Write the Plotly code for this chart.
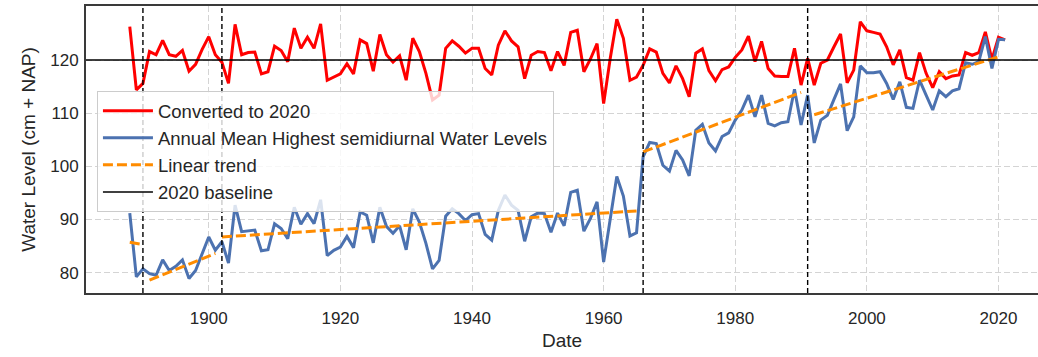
import plotly.graph_objects as go

# Annual series, 1888-2021
YEARS = list(range(1888, 2022))

# Annual Mean Highest semidiurnal Water Levels (cm + NAP)
MEAN_HIGH = [
    91.2, 79.2, 80.7, 79.8, 79.5, 82.4, 80.4, 81.2, 82.4, 78.9,   # 1888-1897
    80.4, 83.6, 86.7, 84.2, 85.8, 81.8, 92.7, 87.7, 87.9, 88.0,   # 1898-1907
    84.1, 84.3, 89.2, 88.3, 86.4, 92.3, 89.1, 91.1, 89.2, 93.7,   # 1908-1917
    83.2, 84.2, 84.8, 86.8, 84.7, 91.4, 90.8, 85.6, 92.3, 88.7,   # 1918-1927
    87.4, 88.8, 84.3, 92.0, 89.5, 85.5, 80.7, 82.3, 90.6, 92.0,   # 1928-1937
    91.1, 89.8, 90.9, 91.1, 87.2, 86.1, 91.7, 94.6, 92.7, 91.7,   # 1938-1947
    85.9, 90.5, 91.2, 91.1, 87.6, 91.2, 88.8, 95.1, 95.5, 87.8,   # 1948-1957
    90.2, 93.3, 82.0, 90.4, 98.1, 94.4, 86.9, 87.5, 101.8, 104.5,  # 1958-1967
    104.3, 100.2, 99.1, 103.0, 101.2, 98.2, 106.8, 107.9, 104.4, 102.9,  # 1968-1977
    105.6, 106.3, 108.7, 110.6, 113.4, 109.3, 113.4, 108.1, 107.6, 108.2,  # 1978-1987
    108.4, 114.5, 107.8, 113.4, 104.4, 108.7, 109.6, 112.6, 115.5, 106.7,  # 1988-1997
    109.3, 118.9, 117.6, 117.6, 117.8, 115.6, 112.6, 115.9, 111.1, 110.9,  # 1998-2007
    116.2, 113.4, 110.6, 114.2, 113.1, 114.2, 114.6, 119.5, 119.2, 119.7,  # 2008-2017
    124.4, 118.4, 123.9, 123.8,                                           # 2018-2021
]

# Same series converted to the 2020 level (cm + NAP)
CONVERTED_2020 = [
    126.3, 114.4, 115.6, 121.6, 121.0, 123.7, 121.0, 120.7, 121.8, 117.9,  # 1888-1897
    119.2, 122.0, 124.4, 121.0, 119.6, 115.6, 126.7, 121.0, 121.4, 121.5,  # 1898-1907
    117.4, 117.8, 122.6, 121.8, 119.7, 126.0, 122.2, 124.3, 122.2, 126.8,  # 1908-1917
    116.2, 116.8, 117.4, 119.3, 117.4, 123.8, 123.1, 117.9, 124.8, 121.0,  # 1918-1927
    119.6, 120.8, 116.2, 124.1, 121.6, 117.5, 112.5, 113.4, 122.2, 123.6,  # 1928-1937
    122.6, 121.3, 122.2, 122.2, 118.4, 117.2, 122.8, 125.5, 123.6, 122.5,  # 1938-1947
    116.5, 120.9, 121.6, 121.4, 118.0, 121.6, 119.0, 125.2, 125.6, 117.8,  # 1948-1957
    120.2, 123.1, 111.8, 120.3, 127.7, 124.1, 116.2, 116.8, 119.0, 122.1,  # 1958-1967
    121.5, 117.5, 115.7, 118.9, 116.5, 113.1, 121.3, 122.1, 118.0, 116.1,  # 1968-1977
    118.2, 118.7, 120.5, 121.9, 124.5, 119.7, 123.5, 118.4, 117.0, 116.9,  # 1978-1987
    116.9, 122.2, 115.3, 120.3, 115.3, 119.4, 120.0, 122.5, 124.9, 115.7,  # 1988-1997
    118.1, 127.2, 125.5, 125.2, 124.9, 122.5, 119.1, 121.9, 116.7, 116.2,  # 1998-2007
    121.4, 117.5, 114.8, 117.8, 116.5, 117.0, 117.2, 121.4, 120.9, 121.4,  # 2008-2017
    125.3, 120.1, 124.3, 123.8,                                           # 2018-2021
]

# Piecewise linear trend: one fitted segment per period between breakpoints
TREND_START_YEAR = [1888, 1891, 1902, 1966, 1992]
TREND_END_YEAR = [1890, 1901, 1965, 1990, 2020]
TREND_START_VALUE = [85.7, 78.6, 86.7, 102.7, 109.7]
TREND_END_VALUE = [85.3, 83.6, 91.6, 113.9, 120.6]

# Breakpoint years and the 2020 reference level
BREAK_YEARS = [1890, 1902, 1966, 1991]
BASELINE_2020 = 120

X_TICKS = [1900, 1920, 1940, 1960, 1980, 2000, 2020]
Y_TICKS = [80, 90, 100, 110, 120]

FONT = "Liberation Sans, Arial, sans-serif"
TEXT_COLOR = "#262626"
GRID_COLOR = "#d4d4d4"
SPINE_COLOR = "#3a3a3a"

trend_x, trend_y = [], []
for x0, x1, y0, y1 in zip(TREND_START_YEAR, TREND_END_YEAR,
                          TREND_START_VALUE, TREND_END_VALUE):
    trend_x += [x0, x1, None]
    trend_y += [y0, y1, None]

fig = go.Figure()
fig.add_trace(go.Scatter(
    x=YEARS, y=CONVERTED_2020, mode="lines", name="Converted to 2020",
    line=dict(color="#ff0000", width=3), legendrank=1,
))
fig.add_trace(go.Scatter(
    x=YEARS, y=MEAN_HIGH, mode="lines",
    name="Annual Mean Highest semidiurnal Water Levels",
    line=dict(color="#4c72b0", width=3), legendrank=2,
))
fig.add_trace(go.Scatter(
    x=trend_x, y=trend_y, mode="lines", name="Linear trend",
    line=dict(color="#ff8c00", width=3, dash="10px,4px"),
    connectgaps=False, legendrank=3,
))

fig.add_hline(
    y=BASELINE_2020, line=dict(color="black", width=1.5),
    showlegend=True, name="2020 baseline", legendrank=4,
)
for yr in BREAK_YEARS:
    fig.add_vline(x=yr, line=dict(color="black", width=1.4, dash="5px,3px"))

fig.update_layout(
    width=1038, height=357,
    margin=dict(l=86, r=0, t=6, b=64),
    plot_bgcolor="white", paper_bgcolor="white",
    font=dict(family=FONT, color=TEXT_COLOR, size=17),
    showlegend=True,
    legend=dict(
        x=0.0115, y=0.703, xanchor="left", yanchor="top",
        bgcolor="rgba(255,255,255,0.8)", bordercolor="#cccccc", borderwidth=1,
        font=dict(family=FONT, size=18.5, color=TEXT_COLOR),
        itemwidth=50,
    ),
)
fig.update_xaxes(
    range=[1881.35, 2026.0], tickvals=X_TICKS,
    showgrid=True, gridcolor=GRID_COLOR, griddash="6px,3px", gridwidth=1,
    showline=True, linecolor=SPINE_COLOR, linewidth=2, mirror=True,
    ticks="outside", ticklen=9, tickcolor="rgba(0,0,0,0)",
    tickfont=dict(size=17), zeroline=False,
    title=dict(text="Date", font=dict(size=19), standoff=6),
    automargin=False,
)
fig.update_yaxes(
    range=[76.16, 130.17], tickvals=Y_TICKS,
    showgrid=True, gridcolor=GRID_COLOR, griddash="6px,3px", gridwidth=1,
    showline=True, linecolor=SPINE_COLOR, linewidth=2,
    ticks="outside", ticklen=2, tickcolor="rgba(0,0,0,0)",
    tickfont=dict(size=17), zeroline=False,
    title=dict(text="Water Level (cm + NAP)", font=dict(size=19), standoff=10),
    automargin=False,
)

fig.write_html("out.html")
